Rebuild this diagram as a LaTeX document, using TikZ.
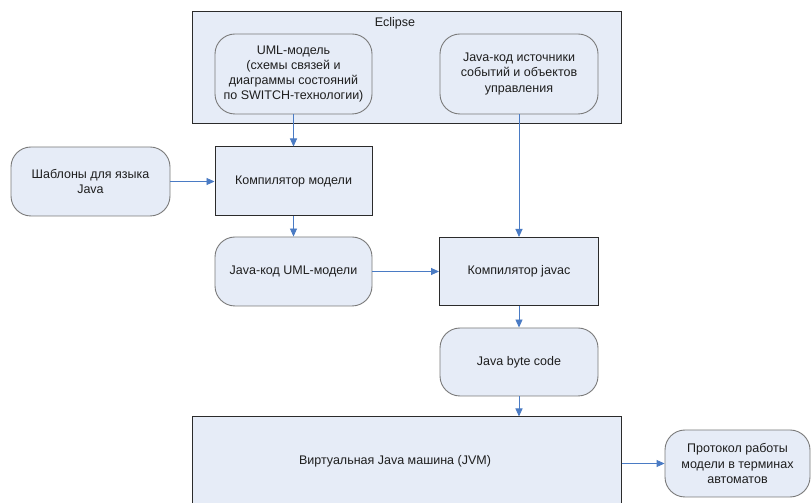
\documentclass[tikz,border=0pt]{standalone}
\usepackage{fontspec}
\setmainfont{Liberation Sans}
\usetikzlibrary{arrows.meta}
\definecolor{boxfill}{HTML}{E6ECF7}
\definecolor{roundedge}{HTML}{7A7A7A}
\definecolor{rectedge}{HTML}{2B2B2B}
\definecolor{arrowblue}{HTML}{4A7BC4}
\definecolor{txt}{HTML}{1E1E1E}
\tikzset{
  every node/.style={font=\fontsize{12.5}{15.3}\selectfont, text=txt, align=center, inner sep=0pt},
  roundbox/.style={draw=roundedge, line width=0.9pt, fill=boxfill, rounded corners=20pt, minimum width=157pt, minimum height=69pt},
  rectbox/.style={draw=rectedge, line width=1pt, fill=boxfill, minimum width=157pt, minimum height=69pt},
  flow/.style={draw=arrowblue, line width=0.9pt, -{Triangle[length=8pt,width=7pt]}},
}
\begin{document}
\begin{tikzpicture}[x=1pt,y=1pt]
\clip (0,0) rectangle (811,503);
\fill[white] (0,0) rectangle (811,503);
% Eclipse container
\node[rectbox, minimum width=429pt, minimum height=112pt] (eclipse) at (406.5,435) {};
\node (eclipselabel) at (395,480) {Eclipse};
\node[roundbox, minimum height=80pt] (uml) at (293.5,429) {UML-модель\\(схемы связей и\\диаграммы состояний\\по SWITCH-технологии)};
\node[roundbox, minimum width=158pt, minimum height=80pt] (src) at (519,429) {Java-код источники\\событий и объектов\\управления};
% middle
\node[roundbox, minimum width=159pt] (tmpl) at (90.5,321.5) {Шаблоны для языка\\Java};
\node[rectbox] (mcomp) at (293.5,321.5) {Компилятор модели};
\node[roundbox] (jcode) at (293.5,231.5) {Java-код UML-модели};
\node[rectbox, minimum width=159pt, minimum height=68pt] (javac) at (519,231.5) {Компилятор javac};
\node[roundbox, minimum width=158pt, minimum height=68pt] (bcode) at (519,141) {Java byte code};
% bottom
\node[rectbox, minimum width=429pt, minimum height=100pt] (jvm) at (406.5,36) {};
\node (jvmlabel) at (395,42) {Виртуальная Java машина (JVM)};
\node[roundbox, minimum width=145pt, minimum height=67pt] (proto) at (737.5,39.5) {Протокол работы\\модели в терминах\\автоматов};
% connectors
\draw[flow] (uml.south) -- (mcomp.north);
\draw[flow] (src.south) -- (javac.north);
\draw[flow] (tmpl.east) -- (mcomp.west);
\draw[flow] (mcomp.south) -- (jcode.north);
\draw[flow] (jcode.east) -- (javac.west);
\draw[flow] (javac.south) -- (bcode.north);
\draw[flow] (bcode.south) -- (bcode.south |- jvm.north);
\draw[flow] (proto.west -| jvm.east) -- (proto.west);
\end{tikzpicture}
\end{document}
